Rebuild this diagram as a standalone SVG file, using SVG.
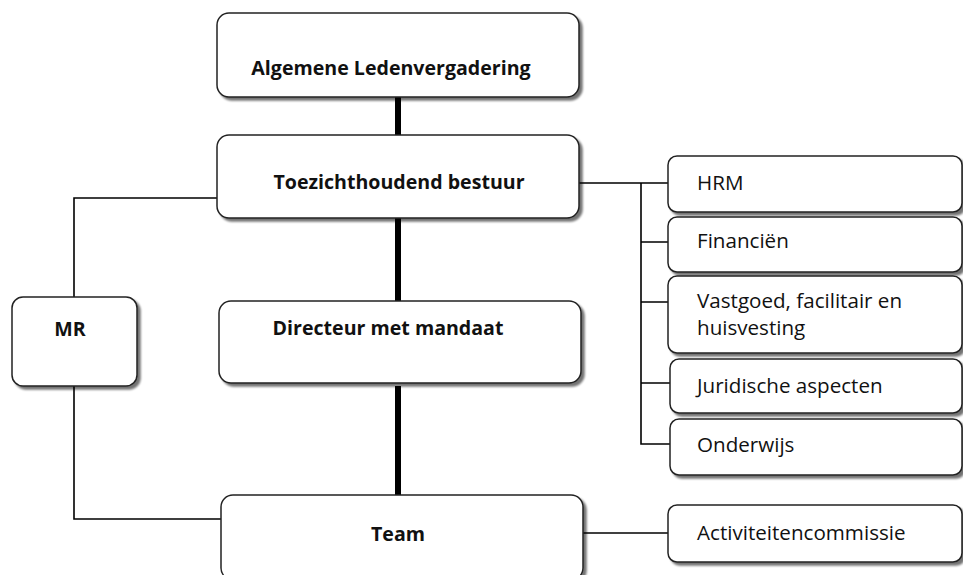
<svg xmlns="http://www.w3.org/2000/svg" width="963" height="575" viewBox="0 0 963 575">
<style>
.box{fill:#fff;stroke:#222;stroke-width:1.5;filter:url(#sh)}
.bt{font-family:"Open Sans","Liberation Sans",sans-serif;font-weight:bold;font-size:19.6px;fill:#111;text-anchor:middle}
.rt{font-family:"Open Sans","Liberation Sans",sans-serif;font-size:20.6px;fill:#111}
.thick{stroke:#000;stroke-width:6;fill:none}
.thin{stroke:#000;stroke-width:1.6;fill:none}
</style>
<defs>
<filter id="sh" x="-10%" y="-10%" width="120%" height="130%">
<feGaussianBlur in="SourceAlpha" stdDeviation="1.2"/>
<feOffset dx="3" dy="3" result="o"/>
<feComponentTransfer><feFuncA type="linear" slope="0.55"/></feComponentTransfer>
<feMerge><feMergeNode/><feMergeNode in="SourceGraphic"/></feMerge>
</filter>
</defs>
<rect width="963" height="575" fill="#fff"/>
<g id="connectors">
<path class="thick" d="M398 97V135M398 218V301M398 386V495"/>
<path class="thin" d="M219 198H74V297M74 386V519H221"/>
<path class="thin" d="M579 183H668M641 183V444H670M641 242H668M641 302H668M641 383H670"/>
<path class="thin" d="M583 533H668" stroke-width="1.2"/>
</g>
<g id="n-alv"><rect class="box" x="217" y="13" width="362" height="84" rx="12"/><text class="bt" x="391" y="75">Algemene Ledenvergadering</text></g>
<g id="n-tb"><rect class="box" x="217" y="135" width="362" height="83" rx="12"/><text class="bt" x="399" y="189">Toezichthoudend bestuur</text></g>
<g id="n-dir"><rect class="box" x="219" y="301" width="362" height="82" rx="12"/><text class="bt" x="388" y="335">Directeur met mandaat</text></g>
<g id="n-mr"><rect class="box" x="12" y="297" width="125" height="89" rx="11"/><text class="bt" x="70" y="336">MR</text></g>
<g id="n-team"><rect class="box" x="221" y="495" width="362" height="85" rx="12"/><text class="bt" x="398" y="541">Team</text></g>
<g id="n-hrm"><rect class="box" x="668" y="156" width="294" height="56" rx="9"/><text class="rt" x="697" y="190">HRM</text></g>
<g id="n-fin"><rect class="box" x="668" y="217" width="294" height="55" rx="9"/><text class="rt" x="697" y="248">Financiën</text></g>
<g id="n-vast"><rect class="box" x="668" y="276" width="294" height="77" rx="9"/><text class="rt" x="697" y="308">Vastgoed, facilitair en</text><text class="rt" x="697" y="335">huisvesting</text></g>
<g id="n-jur"><rect class="box" x="670" y="359" width="292" height="54" rx="9"/><text class="rt" x="697" y="393">Juridische aspecten</text></g>
<g id="n-ond"><rect class="box" x="670" y="419" width="292" height="56" rx="9"/><text class="rt" x="697" y="452">Onderwijs</text></g>
<g id="n-act"><rect class="box" x="668" y="505" width="294" height="57" rx="9"/><text class="rt" x="697" y="540">Activiteitencommissie</text></g>
</svg>
